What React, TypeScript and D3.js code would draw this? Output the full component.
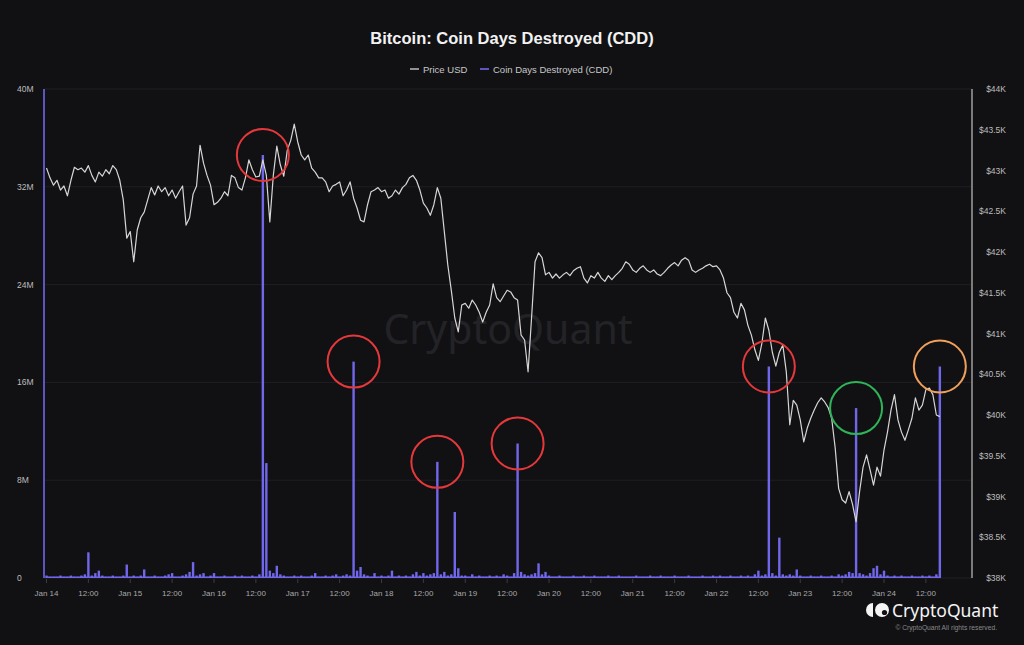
import React from "react";
import * as d3 from "d3";

// ---------- DATA ----------
const startTime = Date.UTC(2024, 0, 14, 0, 0); // first hourly sample (Jan 14 00:00)
const hourMs = 3600e3;

// Hourly BTC price (USD), Jan 14 00:00 → Jan 24 16:00
const priceUSD: number[] = [
  // Jan 14
  43030, 42910, 42820, 42880, 42760, 42810, 42690, 42880, 43040, 43010, 43030, 42980,
  43060, 42940, 42860, 42980, 42930, 43010, 42960, 43060, 43010, 42880, 42640, 42170,
  // Jan 15
  42250, 41880, 42270, 42420, 42490, 42640, 42790, 42700, 42810, 42740, 42790, 42690,
  42760, 42660, 42740, 42810, 42330, 42420, 42710, 42810, 43310, 43090, 42940, 42820,
  // Jan 16
  42580, 42610, 42660, 42740, 42690, 42940, 42910, 42790, 42760, 42910, 43130, 43010,
  42920, 42930, 43130, 42940, 42370, 42940, 43300, 43070, 42930, 43250, 43370, 43570,
  // Jan 17
  43350, 43190, 43130, 43190, 43030, 42980, 42910, 42910, 42860, 42740, 42810, 42830,
  42860, 42690, 42760, 42860, 42660, 42540, 42390, 42370, 42580, 42740, 42760, 42790,
  // Jan 18
  42740, 42760, 42660, 42690, 42760, 42710, 42790, 42830, 42910, 42940, 42880, 42760,
  42600, 42540, 42450, 42580, 42790, 42660, 42250, 41840, 41530, 41190, 41020, 41350,
  // Jan 19
  41370, 41310, 41410, 41350, 41260, 41140, 41260, 41350, 41610, 41440, 41390, 41460,
  41530, 41510, 41440, 41410, 40980, 40920, 40530, 41190, 41880, 41990, 41930, 41720,
  // Jan 20
  41750, 41680, 41730, 41680, 41720, 41750, 41710, 41770, 41800, 41820, 41680, 41620,
  41710, 41680, 41750, 41680, 41640, 41710, 41660, 41710, 41750, 41800, 41880, 41850,
  // Jan 21
  41780, 41750, 41800, 41830, 41780, 41750, 41780, 41730, 41710, 41750, 41800, 41840,
  41870, 41830, 41900, 41930, 41900, 41780, 41750, 41780, 41800, 41830, 41850, 41820,
  // Jan 22
  41830, 41780, 41680, 41500, 41440, 41260, 41190, 41370, 41290, 41100, 40980, 40800,
  40670, 40880, 41190, 41040, 40770, 40600, 40770, 40860, 40530, 39880, 40180, 40120,
  // Jan 23
  39940, 39670, 39840, 39960, 40060, 40150, 40210, 40160, 40090, 39960, 39600, 39100,
  38960, 38920, 39060, 38900, 38690, 39060, 39360, 39510, 39330, 39140, 39360, 39250,
  // Jan 24
  39570, 39790, 40060, 40250, 39940, 39790, 39690, 39820, 39960, 40210, 40060, 40120,
  40310, 40330, 40250, 40000, 39980,
];

// Hourly Coin Days Destroyed (millions)
const cddMillions: number[] = [
  // Jan 14
  0.2, 0.1, 0.1, 0.1, 0.2, 0.1, 0.1, 0.2, 0.1, 0.1, 0.2, 0.3,
  2.1, 0.2, 0.4, 0.6, 0.2, 0.1, 0.1, 0.2, 0.1, 0.1, 0.2, 1.1,
  // Jan 15
  0.1, 0.2, 0.1, 0.2, 0.7, 0.1, 0.1, 0.2, 0.1, 0.1, 0.2, 0.3,
  0.4, 0.1, 0.1, 0.2, 0.3, 0.5, 1.3, 0.2, 0.3, 0.4, 0.1, 0.2,
  // Jan 16
  0.4, 0.1, 0.1, 0.2, 0.1, 0.1, 0.2, 0.1, 0.2, 0.1, 0.1, 0.2,
  0.1, 0.3, 34.6, 9.4, 0.6, 0.4, 1.0, 0.3, 0.2, 0.1, 0.1, 0.2,
  // Jan 17
  0.1, 0.2, 0.1, 0.1, 0.2, 0.4, 0.1, 0.1, 0.2, 0.1, 0.2, 0.3,
  0.1, 0.2, 0.3, 0.2, 17.7, 0.6, 0.9, 0.3, 0.2, 0.1, 0.4, 0.1,
  // Jan 18
  0.2, 0.1, 0.2, 0.6, 0.1, 0.2, 0.1, 0.2, 0.1, 0.3, 0.5, 0.2,
  0.4, 0.2, 0.3, 0.4, 9.5, 0.3, 0.5, 0.2, 0.3, 5.4, 0.8, 0.2,
  // Jan 19
  0.2, 0.1, 0.3, 0.1, 0.2, 0.1, 0.1, 0.2, 0.1, 0.2, 0.1, 0.3,
  0.2, 0.1, 0.4, 11.0, 0.5, 0.3, 0.2, 0.3, 0.4, 1.2, 0.3, 0.5,
  // Jan 20
  0.2, 0.1, 0.1, 0.2, 0.1, 0.1, 0.1, 0.2, 0.1, 0.1, 0.2, 0.1,
  0.1, 0.2, 0.1, 0.1, 0.1, 0.2, 0.1, 0.1, 0.2, 0.1, 0.1, 0.1,
  // Jan 21
  0.1, 0.2, 0.1, 0.1, 0.1, 0.2, 0.1, 0.1, 0.2, 0.1, 0.1, 0.1,
  0.2, 0.1, 0.1, 0.1, 0.2, 0.1, 0.1, 0.1, 0.2, 0.1, 0.1, 0.2,
  // Jan 22
  0.1, 0.2, 0.1, 0.1, 0.2, 0.1, 0.1, 0.2, 0.1, 0.2, 0.1, 0.3,
  0.6, 0.2, 0.3, 17.3, 0.4, 0.2, 3.3, 0.3, 0.2, 0.3, 0.2, 0.7,
  // Jan 23
  0.2, 0.1, 0.1, 0.2, 0.1, 0.1, 0.2, 0.1, 0.1, 0.2, 0.1, 0.3,
  0.2, 0.3, 0.5, 0.4, 13.9, 0.4, 0.3, 0.2, 0.4, 0.8, 1.0, 0.3,
  // Jan 24
  0.6, 0.2, 0.1, 0.2, 0.1, 0.2, 0.1, 0.1, 0.2, 0.1, 0.1, 0.2,
  0.1, 0.2, 0.1, 0.3, 17.3,
];

const leftTicksM: number[] = [0, 8, 16, 24, 32, 40];
const rightTicksUSD: number[] = [
  38000, 38500, 39000, 39500, 40000, 40500, 41000, 41500, 42000, 42500, 43000, 43500, 44000,
];
const chartTitle = "Bitcoin: Coin Days Destroyed (CDD)";
const seriesNames: string[] = ["Price USD", "Coin Days Destroyed (CDD)"];
// hour indices of highlighted CDD spikes, with ring colours
const highlightHours: number[] = [62, 88, 112, 135, 207, 232, 256];
const highlightColors: string[] = ["#e5383b", "#e5383b", "#e5383b", "#e5383b", "#e5383b", "#2fb457", "#f0a05a"];

// axis domain (time) — slightly wider than data, as in the source chart
const domainStart = new Date(Date.UTC(2024, 0, 13, 23, 17));
const domainEnd = new Date(Date.UTC(2024, 0, 25, 1, 13));

// ---------- STYLE ----------
const W = 1024;
const H = 645;
const M = { left: 44, right: 972, top: 89, bottom: 578 };
const BG = "#111114";
const PURPLE = "#7167ea";
const PRICE = "#d6d6d6";
const FONT = "'Liberation Sans', Arial, Helvetica, sans-serif";

export default function App() {
  const times = priceUSD.map((_, i) => new Date(startTime + i * hourMs));

  const x = d3.scaleUtc().domain([domainStart, domainEnd]).range([M.left, M.right]);
  const yL = d3.scaleLinear().domain([0, 40]).range([M.bottom, M.top]);
  const yR = d3.scaleLinear().domain([38000, 44000]).range([M.bottom, M.top]);

  const priceLine = d3
    .line<number>()
    .x((_, i) => x(times[i]))
    .y((d) => yR(d))(priceUSD) as string;

  const cddTime = (i: number) => new Date(startTime + i * hourMs);
  const barW = 2.4;

  const lastTime = new Date(startTime + (priceUSD.length - 1) * hourMs);
  const xTicks = d3.utcHour.every(12)!.range(new Date(startTime), lastTime);
  const fmtTick = (d: Date) =>
    d.getUTCHours() === 0 ? d3.utcFormat("%b %-d")(d) : d3.utcFormat("%H:%M")(d);

  const fmtLeft = (v: number) => (v === 0 ? "0" : `${v}M`);
  const fmtRight = (v: number) => `$${d3.format("~")(v / 1000)}K`;

  return (
    <div style={{ position: "fixed", left: 0, top: 0, width: W, height: H, background: BG }}>
      <svg width={W} height={H} style={{ display: "block", fontFamily: FONT }}>
        <rect x={0} y={0} width={W} height={H} fill={BG} />

        {/* title */}
        <text x={512} y={44} textAnchor="middle" fill="#f2f2f2" fontSize={16.5} fontWeight="bold">
          {chartTitle}
        </text>

        {/* legend */}
        <g fontSize={9.5} fill="#c8c8c8">
          <line x1={410} x2={419} y1={69} y2={69} stroke={PRICE} strokeWidth={1.3} />
          <text x={423} y={72.5}>{seriesNames[0]}</text>
          <line x1={480} x2={489} y1={69} y2={69} stroke={PURPLE} strokeWidth={1.6} />
          <text x={493} y={72.5}>{seriesNames[1]}</text>
        </g>

        {/* grid lines */}
        {leftTicksM.map((t) => (
          <line key={"g" + t} x1={M.left} x2={M.right} y1={yL(t)} y2={yL(t)} stroke="#1f1f24" strokeWidth={1} />
        ))}

        {/* watermark */}
        <text
          x={508}
          y={344}
          textAnchor="middle"
          fontSize={41}
          fill="#232327"
          fontFamily="'Noto Sans', 'Liberation Sans', sans-serif"
        >
          CryptoQuant
        </text>

        {/* left axis */}
        <line x1={M.left} x2={M.left} y1={M.top} y2={M.bottom} stroke={PURPLE} strokeWidth={1.6} />
        {leftTicksM.map((t) => (
          <text key={"l" + t} x={17} y={yL(t) + 3} fontSize={8.5} fill="#bdbdbd">
            {fmtLeft(t)}
          </text>
        ))}

        {/* right axis */}
        <line x1={M.right} x2={M.right} y1={M.top} y2={M.bottom} stroke="#a8a8a8" strokeWidth={1.4} />
        {rightTicksUSD.map((t) => (
          <text key={"r" + t} x={1006} y={yR(t) + 3} fontSize={8.5} fill="#bdbdbd" textAnchor="end">
            {fmtRight(t)}
          </text>
        ))}

        {/* x axis */}
        {xTicks.map((t) => (
          <g key={"x" + t.getTime()}>
            <line x1={x(t)} x2={x(t)} y1={M.bottom + 1} y2={M.bottom + 5} stroke="#3a3a40" strokeWidth={1} />
            <text x={x(t)} y={596} fontSize={8} fill="#a8a8a8" textAnchor="middle">
              {fmtTick(t)}
            </text>
          </g>
        ))}

        {/* CDD series: baseline + hourly bars */}
        <line
          x1={x(cddTime(0))}
          x2={x(cddTime(cddMillions.length - 1))}
          y1={yL(0) - 0.8}
          y2={yL(0) - 0.8}
          stroke={PURPLE}
          strokeWidth={1.4}
        />
        {cddMillions.map((v, i) => (
          <rect
            key={"b" + i}
            x={x(cddTime(i)) - barW / 2}
            y={yL(v)}
            width={barW}
            height={Math.max(0, yL(0) - yL(v))}
            fill={PURPLE}
          />
        ))}

        {/* price */}
        <path d={priceLine} fill="none" stroke={PRICE} strokeWidth={1.2} strokeLinejoin="round" />

        {/* highlight rings around CDD spikes */}
        {highlightHours.map((h, i) => (
          <circle
            key={"c" + h}
            cx={x(cddTime(h))}
            cy={yL(cddMillions[h])}
            r={26}
            fill="none"
            stroke={highlightColors[i]}
            strokeWidth={2}
          />
        ))}

        {/* footer logo */}
        <g fill="#f4f4f4">
          <path d="M 873 603 A 7 7 0 0 0 873 617 Z" />
          <circle cx={882} cy={610} r={7} />
          <circle cx={884.5} cy={612.5} r={2.6} fill={BG} />
        </g>
        <text x={892} y={617} fontSize={17.5} fill="#f4f4f4" fontFamily="'Noto Sans', 'Liberation Sans', sans-serif">
          CryptoQuant
        </text>
        <text x={997} y={630} fontSize={6.7} fill="#8a8a8a" textAnchor="end">
          © CryptoQuant All rights reserved.
        </text>
      </svg>
    </div>
  );
}
